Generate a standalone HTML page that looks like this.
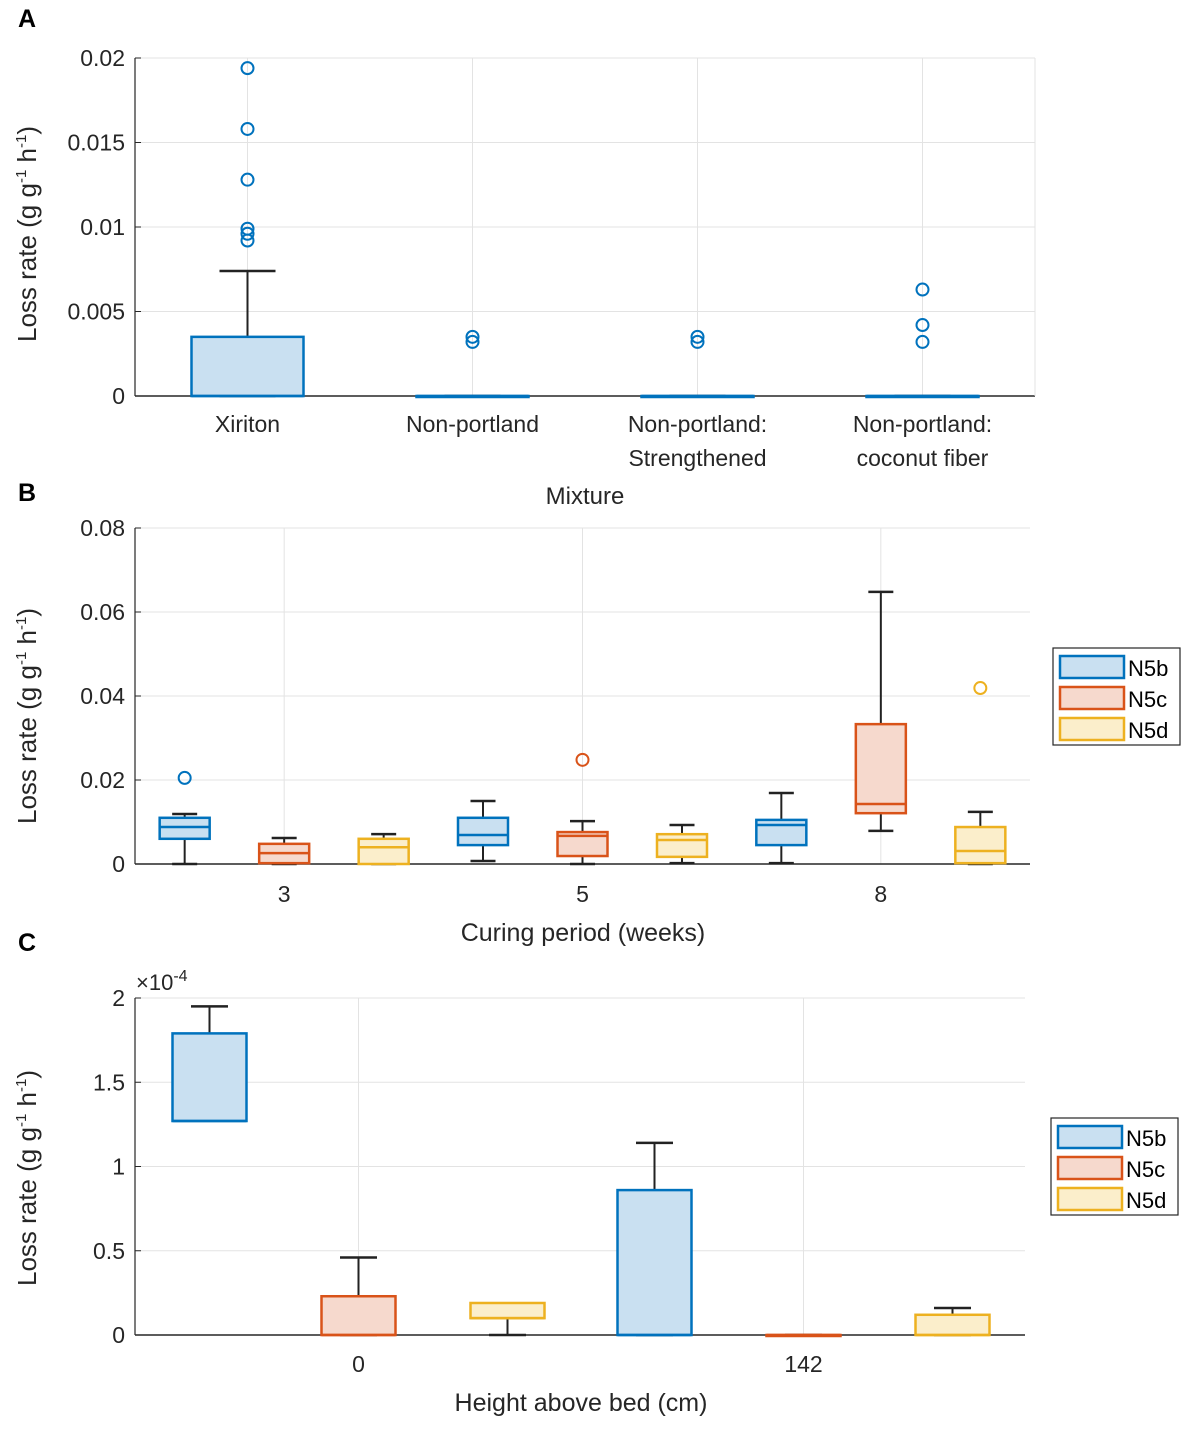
<!DOCTYPE html>
<html><head><meta charset="utf-8"><style>
html,body{margin:0;padding:0;background:#fff}
svg{display:block;font-family:"Liberation Sans",Arial,sans-serif}
</style></head><body>
<svg id="fig" width="1200" height="1429" viewBox="0 0 1200 1429" xmlns="http://www.w3.org/2000/svg"></svg>
<script>
// ---------- Panel A data ----------
const aCategories = ["Xiriton","Non-portland","Non-portland: Strengthened","Non-portland: coconut fiber"];
const aLow   = [0,0,0,0];
const aQ1    = [0,0,0,0];
const aMed   = [0,0,0,0];
const aQ3    = [0.0035,0,0,0];
const aHigh  = [0.0074,0,0,0];
const aOutliers = [[0.0194,0.0158,0.0128,0.0099,0.0096,0.0092],[0.0035,0.0032],[0.0035,0.0032],[0.0063,0.0042,0.0032]];
const aTicks = [0,0.005,0.01,0.015,0.02];
const aTickLabels = ["0","0.005","0.01","0.015","0.02"];

// ---------- Panel B data ----------
const bCategories = ["3","5","8"];
const bSeries = ["N5b","N5c","N5d"];
const bLow  = [[0,0,0],[0.0007,0,0.0002],[0.0002,0.0079,0]];
const bQ1   = [[0.006,0.0002,0],[0.0045,0.0019,0.0017],[0.0045,0.0121,0.0002]];
const bMed  = [[0.0088,0.0026,0.004],[0.0069,0.0067,0.0057],[0.0093,0.0143,0.0031]];
const bQ3   = [[0.011,0.0048,0.006],[0.011,0.0076,0.0071],[0.0105,0.0333,0.0088]];
const bHigh = [[0.0119,0.0062,0.0071],[0.015,0.0102,0.0093],[0.0169,0.0648,0.0124]];
const bOutliers = [[[0.0205],[],[]],[[],[0.0248],[]],[[],[],[0.0419]]];
const bTicks = [0,0.02,0.04,0.06,0.08];
const bTickLabels = ["0","0.02","0.04","0.06","0.08"];

// ---------- Panel C data (×1e-4) ----------
const cCategories = ["0","142"];
const cLow  = [[1.27,0,0],[0,0,0]];
const cQ1   = [[1.27,0,0.1],[0,0,0]];
const cMed  = [[1.27,0,0.1],[0,0,0]];
const cQ3   = [[1.79,0.23,0.19],[0.86,0,0.12]];
const cHigh = [[1.95,0.46,0.19],[1.14,0,0.16]];
const cTicks = [0,0.5,1,1.5,2];
const cTickLabels = ["0","0.5","1","1.5","2"];

const colors = ["#0072BD","#D95319","#EDB120"];
const fills  = ["#c9e0f1","#f6d9cd","#fbeecb"];
const NS = "http://www.w3.org/2000/svg";
const svg = document.getElementById("fig");
function mk(tag, attrs, parent, text){
  const e = document.createElementNS(NS, tag);
  for (const k in attrs) e.setAttribute(k, attrs[k]);
  if (text !== undefined) e.textContent = text;
  (parent||svg).appendChild(e);
  return e;
}
function scaleY(y0px, y1px, vmax){ return v => y0px - (v / vmax) * (y0px - y1px); }

function axes(g, x0, x1, y0, y1, ys, ticks, labels, catX){
  ticks.forEach((t,i)=>{
    const y = ys(t);
    if (i>0) { const gl = mk("line",{x1:x0,x2:x1,y1:y,y2:y,stroke:"#e3e3e3","stroke-width":1},g);
        }
    const tl = mk("text",{x:x0-10,y:y+8,"text-anchor":"end","font-size":23,fill:"#262626"},g,labels[i]);
     
    mk("line",{x1:x0,x2:x0+6,y1:y,y2:y,stroke:"#262626"},g);
  });
  catX.forEach(cx=>{
    const gl = mk("line",{x1:cx,x2:cx,y1:y0,y2:y1,stroke:"#e3e3e3","stroke-width":1},g);
     
  });
  const ya = mk("line",{x1:x0,x2:x0,y1:y0,y2:y1,stroke:"#262626","stroke-width":1.2},g);
   
  const xa = mk("line",{x1:x0,x2:x1,y1:y0,y2:y0,stroke:"#262626","stroke-width":1.5},g);
   
}

function box(g, cx, w, ys, lo, q1, md, q3, hi, outs, s){
  const col = colors[s], fil = fills[s];
  if (hi > q3) {
    mk("line",{x1:cx,x2:cx,y1:ys(q3),y2:ys(hi),stroke:"#222","stroke-width":2},g);
    mk("line",{x1:cx-w/4,x2:cx+w/4,y1:ys(hi),y2:ys(hi),stroke:"#222","stroke-width":2.5},g);
  }
  if (lo < q1 || lo === 0) {
    mk("line",{x1:cx,x2:cx,y1:ys(q1),y2:ys(lo),stroke:"#222","stroke-width":2},g);
    mk("line",{x1:cx-w/4,x2:cx+w/4,y1:ys(lo),y2:ys(lo),stroke:"#222","stroke-width":2.5},g);
  }
  const r = mk("rect",{x:cx-w/2,y:ys(q3),width:w,height:Math.max(ys(q1)-ys(q3),1),fill:fil,stroke:col,"stroke-width":2.5},g);
   
  mk("line",{x1:cx-w/2,x2:cx+w/2,y1:ys(md),y2:ys(md),stroke:col,"stroke-width":2.5},g);
  (outs||[]).forEach(v=>{
    const c = mk("ellipse",{cx:cx,cy:ys(v),rx:6,ry:6,fill:"none",stroke:col,"stroke-width":2},g);
     
  });
}

function ylabel(g, x, y){
  const t = mk("text",{transform:`translate(${x},${y}) rotate(-90)`,"text-anchor":"middle","font-size":26,fill:"#262626"},g);
  t.innerHTML = 'Loss rate (g g<tspan dy="-10" font-size="15">-1</tspan><tspan dy="10"> h</tspan><tspan dy="-10" font-size="15">-1</tspan><tspan dy="10">)</tspan>';
   
}
function letter(ch, y){
  const t = mk("text",{x:18,y:y,"font-size":25,"font-weight":"bold",fill:"#000"},svg,ch);
   
}
function legend(g, x, y){
  const lb = mk("rect",{x:x,y:y,width:127,height:97,fill:"#fff",stroke:"#262626","stroke-width":1.2},g);
   
  bSeries.forEach((n,i)=>{
    const yy = y+8+i*31;
    const sw = mk("rect",{x:x+7,y:yy,width:64,height:22,fill:fills[i],stroke:colors[i],"stroke-width":2.5},g);
     
    const tx = mk("text",{x:x+75,y:yy+20,"font-size":22,fill:"#000"},g,n);
     
  });
}

// ---------- Panel A ----------
(function(){
  const g = mk("g",{});  
  const x0=135,x1=1035,y0=396,y1=58;
  const ys = scaleY(y0, y1, 0.02);
  const step = (x1-x0)/4;
  const cx = aCategories.map((_,i)=> x0 + step*(i+0.5));
  axes(g,x0,x1,y0,y1,ys,aTicks,aTickLabels,cx);
  mk("line",{x1:x1,x2:x1,y1:y0,y2:y1,stroke:"#e3e3e3"},g);
  aCategories.forEach((c,i)=>{
    box(g,cx[i],112,ys,aLow[i],aQ1[i],aMed[i],aQ3[i],aHigh[i],aOutliers[i],0);
    const parts = c.split(": ");
    parts.forEach((p,k)=>{
      const t = mk("text",{x:cx[i],y:432+k*34,"text-anchor":"middle","font-size":23,fill:"#262626"},g,k===0&&parts.length>1?p+":":p);
       
    });
  });
  const xt = mk("text",{x:585,y:504,"text-anchor":"middle","font-size":24,fill:"#262626"},g,"Mixture");
   
  ylabel(g,36,234);
})();
letter("A",27);

// ---------- Panel B ----------
(function(){
  const g = mk("g",{});  
  const x0=135,x1=1030,y0=864,y1=528;
  const ys = scaleY(y0, y1, 0.08);
  const step = (x1-x0)/3;
  const cx = bCategories.map((_,i)=> x0 + step*(i+0.5));
  axes(g,x0,x1,y0,y1,ys,bTicks,bTickLabels,cx);
  bCategories.forEach((c,i)=>{
    bSeries.forEach((s,j)=>{
      const bx = cx[i] + (j-1)*99.5;
      box(g,bx,50,ys,bLow[i][j],bQ1[i][j],bMed[i][j],bQ3[i][j],bHigh[i][j],bOutliers[i][j],j);
    });
    const t = mk("text",{x:cx[i],y:902,"text-anchor":"middle","font-size":23,fill:"#262626"},g,c);
     
  });
  const xt = mk("text",{x:583,y:941,"text-anchor":"middle","font-size":25,fill:"#262626"},g,"Curing period (weeks)");
   
  ylabel(g,36,716);
  legend(g,1053,648);
})();
letter("B",501);

// ---------- Panel C ----------
(function(){
  const g = mk("g",{});  
  const x0=135,x1=1025,y0=1335,y1=998;
  const ys = scaleY(y0, y1, 2);
  const step = (x1-x0)/2;
  const cx = cCategories.map((_,i)=> x0 + step*(i+0.5) + 1);
  axes(g,x0,x1,y0,y1,ys,cTicks,cTickLabels,cx);
  cCategories.forEach((c,i)=>{
    bSeries.forEach((s,j)=>{
      const bx = cx[i] + (j-1)*149;
      box(g,bx,74,ys,cLow[i][j],cQ1[i][j],cMed[i][j],cQ3[i][j],cHigh[i][j],[],j);
    });
    const t = mk("text",{x:cx[i],y:1372,"text-anchor":"middle","font-size":23,fill:"#262626"},g,c);
     
  });
  const ex = mk("text",{x:136,y:990,"font-size":22,fill:"#262626"},g);
  ex.innerHTML = '×10<tspan dy="-9" font-size="16">-4</tspan>';
   
  const xt = mk("text",{x:581,y:1411,"text-anchor":"middle","font-size":25,fill:"#262626"},g,"Height above bed (cm)");
   
  ylabel(g,36,1178);
  legend(g,1051,1118);
})();
letter("C",951);
</script>
</body></html>
